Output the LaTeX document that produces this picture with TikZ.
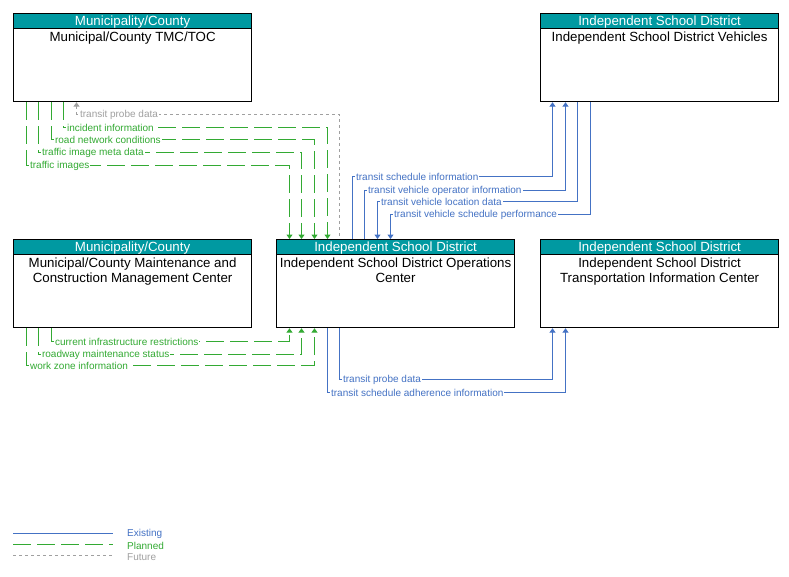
\documentclass[tikz,border=0pt]{standalone}
\usepackage{fontspec}
\setmainfont{Liberation Sans}
\usetikzlibrary{arrows.meta}
\definecolor{tealhdr}{RGB}{0,153,161}
\definecolor{exblue}{RGB}{68,114,196}
\definecolor{plgreen}{RGB}{51,170,51}
\definecolor{fugray}{RGB}{160,160,160}
\tikzset{
  box/.style={draw=black, line width=1.2pt, minimum width=238pt, minimum height=88pt, anchor=north west, inner sep=0pt},
  hdr/.style={draw=black, line width=1.2pt, fill=tealhdr, text=white, minimum width=238pt, minimum height=15pt, anchor=north west, inner sep=0pt, text height=10.25pt, text depth=1.25pt, font=\fontsize{13.3}{15}\selectfont},
  body/.style={anchor=north, align=center, font=\fontsize{13.3}{15}\selectfont, inner sep=2pt},
  lbl/.style={anchor=west, xshift=2pt, fill=white, inner sep=1pt, font=\fontsize{10}{11}\selectfont},
  elbl/.style={lbl, text=exblue},
  plbl/.style={lbl, text=plgreen},
  flbl/.style={lbl, text=fugray},
  tip/.style={-{Triangle[width=6pt,length=4.5pt]}},
  rtip/.style={{Triangle[width=6pt,length=4.5pt]}-},
  exist/.style={draw=exblue, line width=1.2pt},
  plan/.style={draw=plgreen, line width=1.2pt, dash pattern=on 18pt off 6pt},
  fut/.style={draw=fugray, line width=1.2pt, dash pattern=on 3pt off 3pt},
  legtxt/.style={anchor=west, inner sep=0pt, font=\fontsize{10}{11}\selectfont}
}
\begin{document}
\begin{tikzpicture}[x=1pt, y=-1pt]
\useasboundingbox[fill=white] (0,0) rectangle (789,576);

% boxes
\node[box] (tmc) at (13,13) {};
\node[hdr] (tmch) at (tmc.north west) {Municipality/County};
\node[body] (tmcb) at ([yshift=-17pt]tmc.north) {Municipal/County TMC/TOC};

\node[box] (veh) at (540,13) {};
\node[hdr] (vehh) at (veh.north west) {Independent School District};
\node[body] (vehb) at ([yshift=-17pt]veh.north) {Independent School District Vehicles};

\node[box] (mnt) at (13,239) {};
\node[hdr] (mnth) at (mnt.north west) {Municipality/County};
\node[body] (mntb) at ([yshift=-17pt]mnt.north) {Municipal/County Maintenance and\\Construction Management Center};

\node[box] (ops) at (276,239) {};
\node[hdr] (opsh) at (ops.north west) {Independent School District};
\node[body] (opsb) at ([yshift=-17pt]ops.north) {Independent School District Operations\\Center};

\node[box] (tic) at (540,239) {};
\node[hdr] (tich) at (tic.north west) {Independent School District};
\node[body] (ticb) at ([yshift=-17pt]tic.north) {Independent School District\\Transportation Information Center};

% TMC <-> Ops
\draw[plan, tip] ([xshift=13.5pt]tmc.south west) -- ++(0,63.5) node[plbl] {traffic images} -| ([xshift=13.5pt]ops.north west);
\draw[plan, tip] ([xshift=25.5pt]tmc.south west) -- ++(0,50.5) node[plbl] {traffic image meta data} -| ([xshift=25.5pt]ops.north west);
\draw[plan, tip] ([xshift=38.5pt]tmc.south west) -- ++(0,37.5) node[plbl] {road network conditions} -| ([xshift=38.5pt]ops.north west);
\draw[plan, tip] ([xshift=50.5pt]tmc.south west) -- ++(0,25.5) node[plbl] {incident information} -| ([xshift=51.5pt]ops.north west);
\draw[fut, rtip] ([xshift=63.5pt]tmc.south west) -- ++(0,12.5) node[flbl] {transit probe data} -| ([xshift=63.5pt]ops.north west);

% Ops <-> Vehicles
\draw[exist, tip] ([xshift=76.5pt]ops.north west) -- ++(0,-62.5) node[elbl] {transit schedule information} -| ([xshift=12.5pt]veh.south west);
\draw[exist, tip] ([xshift=88.5pt]ops.north west) -- ++(0,-48.5) node[elbl] {transit vehicle operator information} -| ([xshift=25.5pt]veh.south west);
\draw[exist, rtip] ([xshift=101.5pt]ops.north west) -- ++(0,-37.5) node[elbl] {transit vehicle location data} -| ([xshift=37.5pt]veh.south west);
\draw[exist, rtip] ([xshift=114.5pt]ops.north west) -- ++(0,-24.5) node[elbl] {transit vehicle schedule performance} -| ([xshift=50.5pt]veh.south west);

% Maintenance -> Ops
\draw[plan, tip] ([xshift=38.5pt]mnt.south west) -- ++(0,13.5) node[plbl] {current infrastructure restrictions} -| ([xshift=13.5pt]ops.south west);
\draw[plan, tip] ([xshift=25.5pt]mnt.south west) -- ++(0,26.5) node[plbl] {roadway maintenance status} -| ([xshift=25.5pt]ops.south west);
\draw[plan, tip] ([xshift=13.5pt]mnt.south west) -- ++(0,37.5) node[plbl] {work zone information} -| ([xshift=38.5pt]ops.south west);

% Ops -> TIC
\draw[exist, tip] ([xshift=63.5pt]ops.south west) -- ++(0,51.5) node[elbl] {transit probe data} -| ([xshift=12.5pt]tic.south west);
\draw[exist, tip] ([xshift=51.5pt]ops.south west) -- ++(0,64.5) node[elbl] {transit schedule adherence information} -| ([xshift=25.5pt]tic.south west);

% legend
\coordinate (l1a) at (13,533.5); \coordinate (l1b) at (113,533.5);
\coordinate (l2a) at (13,544.5); \coordinate (l2b) at (113,544.5);
\coordinate (l3a) at (13,555.5); \coordinate (l3b) at (113,555.5);
\draw[exist] (l1a) -- (l1b);
\draw[plan] (l2a) -- (l2b);
\draw[fut] (l3a) -- (l3b);
\node[legtxt, text=exblue] (lt1) at (127,534) {Existing};
\node[legtxt, text=plgreen] (lt2) at (127,545.5) {Planned};
\node[legtxt, text=fugray] (lt3) at (127,557) {Future};
\end{tikzpicture}
\end{document}
